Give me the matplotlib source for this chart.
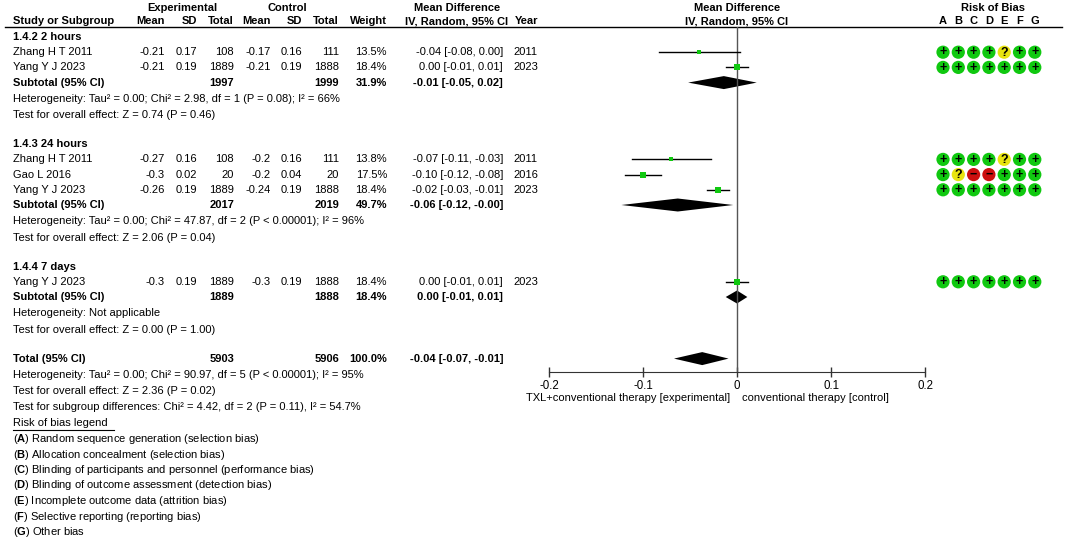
import numpy as np
import matplotlib.pyplot as plt
from matplotlib.patches import Circle, Polygon

plt.rcParams['font.family'] = ['Liberation Sans', 'DejaVu Sans']
plt.rcParams['mathtext.fontset'] = 'custom'
plt.rcParams['mathtext.rm'] = 'Liberation Sans'
plt.rcParams['mathtext.bf'] = 'Liberation Sans:bold'

# ---- data ----
groups = ["1.4.2 2 hours", "1.4.3 24 hours", "1.4.4 7 days"]
group_of = [0, 0, 1, 1, 1, 2]
studies = ["Zhang H T 2011", "Yang Y J 2023", "Zhang H T 2011", "Gao L 2016",
           "Yang Y J 2023", "Yang Y J 2023"]
exp_mean = [-0.21, -0.21, -0.27, -0.3, -0.26, -0.3]
exp_sd = [0.17, 0.19, 0.16, 0.02, 0.19, 0.19]
exp_n = [108, 1889, 108, 20, 1889, 1889]
ctl_mean = [-0.17, -0.21, -0.2, -0.2, -0.24, -0.3]
ctl_sd = [0.16, 0.19, 0.16, 0.04, 0.19, 0.19]
ctl_n = [111, 1888, 111, 20, 1888, 1888]
weights = [13.5, 18.4, 13.8, 17.5, 18.4, 18.4]
md = [-0.040, 0.000, -0.070, -0.100, -0.020, 0.000]
md_lo = [-0.083, -0.012, -0.112, -0.119, -0.032, -0.012]
md_hi = [0.003, 0.012, -0.028, -0.081, -0.008, 0.012]
years = [2011, 2023, 2011, 2016, 2023, 2023]
rob = ["++++?++", "+++++++", "++++?++", "+?--+++", "+++++++", "+++++++"]

sub_exp_n = [1997, 2017, 1889]
sub_ctl_n = [1999, 2019, 1888]
sub_weight = [31.9, 49.7, 18.4]
sub_md = [-0.014, -0.063, 0.000]
sub_lo = [-0.052, -0.123, -0.012]
sub_hi = [0.021, -0.004, 0.011]
sub_het = ["Heterogeneity: Tau² = 0.00; Chi² = 2.98, df = 1 (P = 0.08); I² = 66%",
           "Heterogeneity: Tau² = 0.00; Chi² = 47.87, df = 2 (P < 0.00001); I² = 96%",
           "Heterogeneity: Not applicable"]
sub_test = ["Test for overall effect: Z = 0.74 (P = 0.46)",
            "Test for overall effect: Z = 2.06 (P = 0.04)",
            "Test for overall effect: Z = 0.00 (P = 1.00)"]

total_exp_n = 5903
total_ctl_n = 5906
total_weight = 100.0
total_md = -0.037
total_lo = -0.067
total_hi = -0.009
total_notes = ["Heterogeneity: Tau² = 0.00; Chi² = 90.97, df = 5 (P < 0.00001); I² = 95%",
               "Test for overall effect: Z = 2.36 (P = 0.02)",
               "Test for subgroup differences: Chi² = 4.42, df = 2 (P = 0.11), I² = 54.7%"]

bias_letters = ["A", "B", "C", "D", "E", "F", "G"]
bias_names = ["Random sequence generation (selection bias)",
              "Allocation concealment (selection bias)",
              "Blinding of participants and personnel (performance bias)",
              "Blinding of outcome assessment (detection bias)",
              "Incomplete outcome data (attrition bias)",
              "Selective reporting (reporting bias)",
              "Other bias"]

xticks = [-0.2, -0.1, 0, 0.1, 0.2]
label_left = "TXL+conventional therapy [experimental]"
label_right = "conventional therapy [control]"

# ---- layout (pixel coordinates) ----
W, H = 1065, 540
FS = 8
col_right = [165, 197, 234, 271, 302, 339, 387]
md_right = 503
md_center = 457
year_left = 513
rob_x = [943 + 15.3 * i for i in range(7)]
rob_col = {'+': '#10c810', '?': '#e8e410', '-': '#cc1010'}
axis_y = 372
top_y = 27

fig = plt.figure(figsize=(W / 100, H / 100), dpi=100)
tx = fig.add_axes([0, 0, 1, 1])
tx.set_xlim(0, W)
tx.set_ylim(H, 0)
tx.axis('off')

fx = fig.add_axes([549 / W, (H - axis_y) / H, 376 / W, (axis_y - top_y) / H])
fx.set_xlim(-0.2, 0.2)
fx.set_ylim(axis_y, top_y)
fx.patch.set_alpha(0)
for s in ['top', 'left', 'right']:
    fx.spines[s].set_visible(False)
fx.spines['bottom'].set_color('#333333')
fx.set_yticks([])
fx.set_xticks(xticks)
fx.set_xticklabels(["-0.2", "-0.1", "0", "0.1", "0.2"], fontsize=8.3)
fx.tick_params(axis='x', direction='inout', length=7, width=1, color='#333333', pad=2)
fx.axvline(0, color='#555555', lw=1)


def txt(x, y, s, ha='left', bold=False, **kw):
    tx.text(x, y, s, ha=ha, va='center', fontsize=FS,
            fontweight='bold' if bold else 'normal', **kw)


def diamond(est, lo, hi, y):
    fx.add_patch(Polygon([(lo, y), (est, y - 6.5), (hi, y), (est, y + 6.5)],
                         closed=True, color='black', lw=0))


# headers
txt(182, 8, "Experimental", ha='center', bold=True)
txt(287, 8, "Control", ha='center', bold=True)
txt(md_center, 8, "Mean Difference", ha='center', bold=True)
txt(737, 8, "Mean Difference", ha='center', bold=True)
txt(993, 8, "Risk of Bias", ha='center', bold=True)
txt(13, 21, "Study or Subgroup", bold=True)
for x, h in zip(col_right, ["Mean", "SD", "Total", "Mean", "SD", "Total", "Weight"]):
    txt(x, 21, h, ha='right', bold=True)
txt(md_center, 21, "IV, Random, 95% CI", ha='center', bold=True)
txt(year_left + 2, 21, "Year", bold=True)
txt(737, 21, "IV, Random, 95% CI", ha='center', bold=True)
for x, l in zip(rob_x, bias_letters):
    txt(x, 21, l, ha='center', bold=True)
tx.plot([5, 1062], [top_y, top_y], color='black', lw=1)

y = 37
for g, gname in enumerate(groups):
    txt(13, y, gname, bold=True)
    y += 15.2
    for i in [k for k in range(len(studies)) if group_of[k] == g]:
        vals = [f"{exp_mean[i]:g}", f"{exp_sd[i]:g}", str(exp_n[i]),
                f"{ctl_mean[i]:g}", f"{ctl_sd[i]:g}", str(ctl_n[i]), f"{weights[i]:.1f}%"]
        txt(13, y, studies[i])
        for x, v in zip(col_right, vals):
            txt(x, y, v, ha='right')
        txt(md_right, y, f"{md[i]:.2f} [{md_lo[i]:.2f}, {md_hi[i]:.2f}]", ha='right')
        txt(year_left, y, str(years[i]))
        fx.plot([md_lo[i], md_hi[i]], [y, y], color='black', lw=1)
        fx.plot(md[i], y, marker='s', color='#10c810', markersize=weights[i] * 0.26,
                markeredgewidth=0)
        for x, r in zip(rob_x, rob[i]):
            tx.add_patch(Circle((x, y), 6.6, color=rob_col[r], lw=0))
            sym = {'+': '+', '?': '?', '-': '−'}[r]
            tx.text(x, y + 0.3, sym, ha='center', va='center', fontsize=9,
                    fontweight='bold', color='black')
        y += 15.2
    txt(13, y, "Subtotal (95% CI)", bold=True)
    txt(col_right[2], y, str(sub_exp_n[g]), ha='right', bold=True)
    txt(col_right[5], y, str(sub_ctl_n[g]), ha='right', bold=True)
    txt(col_right[6], y, f"{sub_weight[g]:.1f}%", ha='right', bold=True)
    txt(md_right, y, f"{sub_md[g]:.2f} [{sub_lo[g]:.2f}, {sub_hi[g]:.2f}]", ha='right', bold=True)
    diamond(sub_md[g], sub_lo[g], sub_hi[g], y)
    y += 16.3
    txt(13, y, sub_het[g])
    y += 16.3
    txt(13, y, sub_test[g])
    y += 29

txt(13, y, "Total (95% CI)", bold=True)
txt(col_right[2], y, str(total_exp_n), ha='right', bold=True)
txt(col_right[5], y, str(total_ctl_n), ha='right', bold=True)
txt(col_right[6], y, f"{total_weight:.1f}%", ha='right', bold=True)
txt(md_right, y, f"{total_md:.2f} [{total_lo:.2f}, {total_hi:.2f}]", ha='right', bold=True)
diamond(total_md, total_lo, total_hi, y)
for note in total_notes:
    y += 16.3
    txt(13, y, note)

txt(730, 398, label_left, ha='right')
txt(742, 398, label_right)

y += 16
txt(13, y, "Risk of bias legend")
tx.plot([13, 114], [y + 6, y + 6], color='black', lw=0.8)
for l, name in zip(bias_letters, bias_names):
    y += 15.5
    txt(13, y, f"($\\mathbf{{{l}}}$) {name}")

fig.savefig("out.png", dpi=100)
